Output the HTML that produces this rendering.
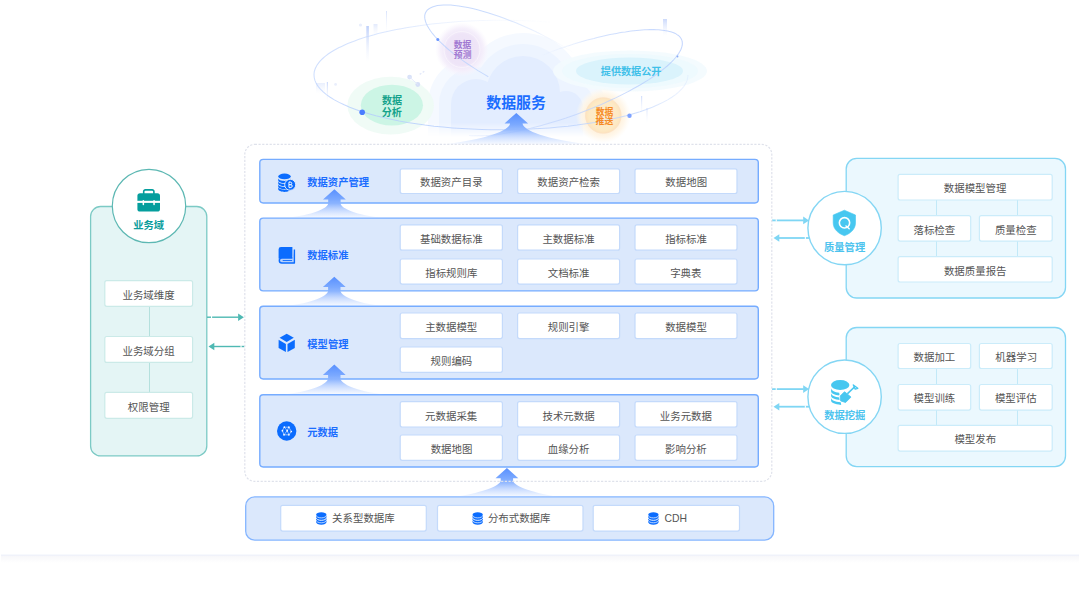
<!DOCTYPE html>
<html lang="zh"><head><meta charset="utf-8"><title>数据服务</title>
<style>
html,body{margin:0;padding:0;background:#fff}
body{width:1080px;height:612px;position:relative;overflow:hidden;font-family:"Liberation Sans",sans-serif;font-size:10.5px;color:#555}
body>div,body>svg{position:absolute;box-sizing:border-box}
svg.ov,svg.bg{left:0;top:0;pointer-events:none}
.t{color:transparent;white-space:nowrap;overflow:hidden;text-align:center;line-height:24px}
.tt{font-weight:bold;text-align:left;line-height:14px}
.dash{border-radius:10px}
.row{background:#dbe8fc;border-radius:4px}
.bar{border-radius:9px}
.wb{background:#fff;border-radius:1px}
.cdh{color:#555;line-height:13px;font-size:10.4px;white-space:nowrap}
.lp{background:#e4f5f5;border-radius:11px}
.lconn{background:#b4e0dd}
.rp{background:#ebf8fe;border-radius:11px}
.rconn{background:#c2e9f8}
svg.tx text{font-family:"Liberation Sans","Noto Sans CJK SC",sans-serif}
</style></head>
<body>
<svg class="bg" width="1080" height="612" viewBox="0 0 1080 612">
<defs>
<linearGradient id="ag" x1="0" y1="0" x2="0" y2="1">
<stop offset="0" stop-color="#5890ff"/><stop offset="0.36" stop-color="#7ba9ff"/><stop offset="0.52" stop-color="#8fb6ff" stop-opacity="0.95"/><stop offset="0.7" stop-color="#9fc0ff" stop-opacity="0.62"/><stop offset="0.9" stop-color="#b0ccff" stop-opacity="0.3"/><stop offset="1" stop-color="#b5cfff" stop-opacity="0.08"/>
</linearGradient>
<linearGradient id="cm" x1="0" y1="0" x2="0" y2="1" gradientUnits="userSpaceOnUse">
<stop offset="0" stop-color="#fff"/><stop offset="0.72" stop-color="#fff"/><stop offset="0.93" stop-color="#000"/>
</linearGradient>
<mask id="cmask" maskUnits="userSpaceOnUse" x="380" y="0" width="300" height="145"><rect x="380" y="0" width="300" height="145" fill="url(#cmG)"/></mask>
<linearGradient id="cmG" x1="0" y1="0" x2="0" y2="145" gradientUnits="userSpaceOnUse">
<stop offset="0" stop-color="#fff"/><stop offset="0.845" stop-color="#fff"/><stop offset="0.945" stop-color="#000"/>
</linearGradient>
<linearGradient id="eA" x1="314" y1="0" x2="688" y2="0" gradientUnits="userSpaceOnUse">
<stop offset="0" stop-color="#b9d0fd"/><stop offset="0.5" stop-color="#c6d9fd"/><stop offset="1" stop-color="#dfe9fe"/>
</linearGradient>
<linearGradient id="barG" x1="0" y1="0" x2="0" y2="1"><stop offset="0" stop-color="#bccefa" stop-opacity="0.95"/><stop offset="1" stop-color="#e6edfd" stop-opacity="0"/></linearGradient>
<linearGradient id="shG" x1="0" y1="0" x2="0" y2="1"><stop offset="0" stop-color="#f6f6f9"/><stop offset="1" stop-color="#fff"/></linearGradient>
</defs>
<g mask="url(#cmask)">
<g fill="#f5f9ff"><circle cx="523" cy="93" r="60"/><circle cx="476" cy="104" r="48"/><circle cx="566" cy="108" r="40"/><rect x="476" y="100" width="90" height="40"/><rect x="428" y="104" width="178" height="36"/></g>
<g fill="#edf4ff"><circle cx="523" cy="93" r="49"/><circle cx="476" cy="104" r="37"/><circle cx="566" cy="108" r="29"/><rect x="476" y="100" width="90" height="40"/><rect x="439" y="104" width="156" height="36"/></g>
<g fill="#e3edff"><circle cx="523" cy="93" r="37"/><circle cx="476" cy="104" r="25"/><circle cx="566" cy="108" r="17"/><rect x="476" y="100" width="90" height="40"/><rect x="451" y="104" width="132" height="36"/></g>
</g>
<g>
<rect x="366.3" y="26" width="2.6" height="36" fill="url(#barG)" opacity="1"/>
<rect x="373.5" y="24" width="4" height="12" fill="url(#barG)" opacity="0.45"/>
<rect x="386" y="11" width="1" height="22" fill="url(#barG)" opacity="0.6"/>
<rect x="326.8" y="82" width="1.2" height="20" fill="url(#barG)" opacity="0.8"/>
<rect x="316" y="83" width="9" height="11" fill="url(#barG)" opacity="0.35"/>
<rect x="663" y="19" width="4" height="17" fill="url(#barG)" opacity="0.8"/>
<rect x="641" y="96" width="1.2" height="18" fill="url(#barG)" opacity="0.7"/>
<rect x="646.5" y="108" width="1" height="15" fill="url(#barG)" opacity="0.7"/>
<circle cx="360.5" cy="25" r="1.6" fill="#e9eefc"/><circle cx="335.6" cy="84.4" r="1.4" fill="#e9eefc"/>
</g>
<defs>
<radialGradient id="rgP" cx="462" cy="49.5" r="27" gradientUnits="userSpaceOnUse"><stop offset="0.66" stop-color="#f1e9f9"/><stop offset="0.8" stop-color="#f5effb" stop-opacity="0.9"/><stop offset="1" stop-color="#f9f5fd" stop-opacity="0"/></radialGradient>
<radialGradient id="rgO" cx="603.3" cy="115.5" r="27.5" gradientUnits="userSpaceOnUse"><stop offset="0.64" stop-color="#fff2dd"/><stop offset="0.8" stop-color="#fff6e8" stop-opacity="0.85"/><stop offset="1" stop-color="#fff9ef" stop-opacity="0"/></radialGradient>
<radialGradient id="rgOi" cx="603.3" cy="115.5" r="18" gradientUnits="userSpaceOnUse"><stop offset="0" stop-color="#fdedcd"/><stop offset="0.8" stop-color="#fdeac6"/><stop offset="1" stop-color="#fde3bd"/></radialGradient>
<radialGradient id="rgPi" cx="462" cy="49.5" r="18" gradientUnits="userSpaceOnUse"><stop offset="0" stop-color="#ede3f7"/><stop offset="0.85" stop-color="#eee4f7"/><stop offset="1" stop-color="#f1e9f9"/></radialGradient>
</defs>
<ellipse cx="390.7" cy="105.6" rx="43.3" ry="28.9" fill="#eefbf5" opacity="0.9"/><ellipse cx="391.9" cy="105.2" rx="31.1" ry="20.4" fill="#ccf5e5"/>
<circle cx="462" cy="49.5" r="27" fill="url(#rgP)"/><circle cx="462" cy="49.5" r="18" fill="url(#rgPi)" stroke="#f8f4fc" stroke-width="0.9"/>
<ellipse cx="630" cy="71" rx="77" ry="20.5" fill="#f3fbfe" opacity="0.9"/><ellipse cx="630" cy="71" rx="68" ry="17" fill="#edf9fe" opacity="0.9"/><ellipse cx="629.5" cy="71" rx="53.5" ry="13.5" fill="#daf3fc"/>
<circle cx="603.3" cy="115.5" r="27.5" fill="url(#rgO)"/><circle cx="603.3" cy="115.5" r="17.8" fill="url(#rgOi)" stroke="#fbdfc4" stroke-width="0.7"/>
<circle cx="409.6" cy="77.1" r="2.4" fill="#d9e2f8"/><circle cx="417.8" cy="84.5" r="2.4" fill="#d6dff7"/><path d="M409.6 77.1L417.8 84.5" stroke="#e3e9fa" stroke-width="0.9"/><path d="M419.7 74.4L425.4 70.5" stroke="#e3e9fa" stroke-width="1.3" stroke-dasharray="2 1.6"/>
<defs>
<linearGradient id="gAb" x1="314" y1="0" x2="688" y2="0" gradientUnits="userSpaceOnUse"><stop offset="0" stop-color="#b9d0fd" stop-opacity="0.85"/><stop offset="0.12" stop-color="#b4cdfd"/><stop offset="0.85" stop-color="#c0d5fd"/><stop offset="1" stop-color="#c9dbfd" stop-opacity="0.35"/></linearGradient>
<linearGradient id="gAt" x1="314" y1="0" x2="560" y2="0" gradientUnits="userSpaceOnUse"><stop offset="0" stop-color="#b9d0fd" stop-opacity="0.85"/><stop offset="0.35" stop-color="#c4d7fd" stop-opacity="0.7"/><stop offset="0.6" stop-color="#cfdffd" stop-opacity="0.35"/><stop offset="0.8" stop-color="#cfdffd" stop-opacity="0.15"/><stop offset="1" stop-color="#cfdffd" stop-opacity="0"/></linearGradient>
<linearGradient id="gB" x1="420" y1="0" x2="575" y2="0" gradientUnits="userSpaceOnUse"><stop offset="0" stop-color="#b8cffd"/><stop offset="0.45" stop-color="#c0d5fd"/><stop offset="1" stop-color="#cfdffd" stop-opacity="0"/></linearGradient>
<linearGradient id="gCu" x1="540" y1="0" x2="690" y2="0" gradientUnits="userSpaceOnUse"><stop offset="0" stop-color="#cfdffd" stop-opacity="0"/><stop offset="0.4" stop-color="#c3d6fd" stop-opacity="0.9"/><stop offset="1" stop-color="#b4cbfd"/></linearGradient>
<linearGradient id="gCl" x1="440" y1="0" x2="690" y2="0" gradientUnits="userSpaceOnUse"><stop offset="0" stop-color="#cfdffd" stop-opacity="0"/><stop offset="0.3" stop-color="#c3d6fd" stop-opacity="0.8"/><stop offset="1" stop-color="#b4cbfd"/></linearGradient>
</defs>
<g fill="none" stroke-width="1.05" opacity="0.82">
<path d="M688.0 75.0L687.7 77.9L687.0 80.7L685.7 83.6L683.9 86.4L681.6 89.2L678.8 91.9L675.6 94.6L671.8 97.3L667.6 99.9L662.9 102.4L657.8 104.8L652.3 107.2L646.3 109.5L640.0 111.7L633.2 113.7L626.1 115.7L618.7 117.6L610.9 119.3L602.8 121.0L594.5 122.5L585.9 123.8L577.1 125.1L568.0 126.2L558.8 127.1L549.4 127.9L539.9 128.6L530.3 129.1L520.5 129.5L510.8 129.7L501.0 129.8L491.2 129.7L481.5 129.5L471.7 129.1L462.1 128.6L452.6 127.9L443.2 127.1L434.0 126.2L424.9 125.1L416.1 123.8L407.5 122.5L399.2 121.0L391.1 119.3L383.3 117.6L375.9 115.7L368.8 113.7L362.0 111.7L355.7 109.5L349.7 107.2L344.2 104.8L339.1 102.4L334.4 99.9L330.2 97.3L326.4 94.6L323.2 91.9L320.4 89.2L318.1 86.4L316.3 83.6L315.0 80.7L314.3 77.9L314.0 75.0" stroke="url(#gAb)"/>
<path d="M314.0 75.0L314.1 73.3L314.3 71.7L314.8 70.0L315.4 68.3L316.2 66.7L317.1 65.0L318.3 63.4L319.6 61.7L321.0 60.1L322.7 58.5L324.5 56.9L326.4 55.4L328.5 53.8L330.8 52.3L333.3 50.8L335.9 49.3L338.6 47.8L341.6 46.4L344.6 45.0L347.8 43.6L351.2 42.2L354.7 40.9L358.3 39.6L362.0 38.3L365.9 37.1L369.9 35.9L374.1 34.8L378.3 33.6L382.7 32.6L387.2 31.5L391.7 30.5L396.4 29.6L401.2 28.7L406.1 27.8L411.1 27.0L416.1 26.2L421.2 25.4L426.4 24.7L431.7 24.1L437.0 23.5L442.4 23.0L447.9 22.5L453.4 22.0L458.9 21.6L464.5 21.3L470.1 21.0L475.8 20.7L481.5 20.5L487.1 20.4L492.8 20.3L498.6 20.2L504.3 20.2L510.0 20.3L515.7 20.4L521.4 20.5L527.0 20.7L532.7 21.0L538.3 21.3L543.9 21.7L549.4 22.1" stroke="url(#gAt)"/>
<path d="M488.3 76.7L483.1 73.6L478.0 70.6L473.0 67.4L468.2 64.3L463.6 61.1L459.2 57.9L455.0 54.8L451.1 51.6L447.3 48.5L443.9 45.4L440.6 42.4L437.7 39.4L435.0 36.5L432.6 33.7L430.6 31.0L428.8 28.3L427.3 25.8L426.2 23.4L425.4 21.1L424.9 18.9L424.7 16.9L424.8 15.0L425.3 13.3L426.1 11.7L427.2 10.2L428.7 9.0L430.4 7.9L432.4 7.0L434.8 6.2L437.4 5.6L440.4 5.2L443.5 5.0L447.0 5.0L450.7 5.1L454.7 5.5L458.8 6.0L463.2 6.7L467.8 7.6L472.6 8.6L477.5 9.8L482.6 11.2L487.8 12.7L493.2 14.4L498.6 16.3L504.1 18.2L509.7 20.4L515.3 22.6L521.0 25.0L526.7 27.5L532.3 30.1L538.0 32.8L543.5 35.6L549.1 38.5L554.5 41.4L559.8 44.4L565.0 47.5L570.1 50.6L575.0 53.7L579.8 56.9L584.4 60.1" stroke="url(#gB)"/>
<path d="M533.0 58.9L536.3 57.5L539.7 56.2L543.0 54.9L546.4 53.6L549.8 52.3L553.2 51.0L556.6 49.8L560.0 48.6L563.4 47.4L566.8 46.3L570.3 45.2L573.7 44.1L577.1 43.1L580.5 42.1L583.9 41.1L587.2 40.1L590.6 39.2L593.9 38.4L597.2 37.5L600.5 36.7L603.7 36.0L606.9 35.3L610.1 34.6L613.3 34.0L616.4 33.4L619.4 32.8L622.4 32.3L625.4 31.9L628.3 31.4L631.1 31.0L633.9 30.7L636.7 30.4L639.3 30.2L642.0 30.0L644.5 29.8L647.0 29.7L649.4 29.6L651.7 29.6L654.0 29.6L656.2 29.7L658.3 29.8L660.3 30.0L662.3 30.2L664.2 30.4L665.9 30.7L667.6 31.0L669.3 31.4L670.8 31.8L672.2 32.3L673.6 32.8L674.8 33.3L676.0 33.9L677.0 34.6L678.0 35.2L678.9 35.9L679.7 36.7L680.3 37.5L680.9 38.3L681.4 39.2L681.8 40.1" stroke="url(#gCu)"/>
<path d="M681.8 40.1L682.2 41.5L682.3 43.0L682.3 44.6L682.0 46.2L681.5 47.9L680.8 49.7L679.8 51.6L678.7 53.5L677.3 55.4L675.7 57.5L673.9 59.5L671.9 61.6L669.6 63.8L667.2 66.0L664.6 68.2L661.8 70.4L658.8 72.7L655.6 75.0L652.3 77.3L648.8 79.6L645.1 81.9L641.3 84.2L637.3 86.5L633.2 88.8L629.0 91.1L624.6 93.4L620.2 95.6L615.6 97.9L610.9 100.1L606.1 102.3L601.3 104.4L596.4 106.5L591.4 108.5L586.4 110.5L581.3 112.5L576.2 114.4L571.1 116.2L566.0 118.0L560.8 119.7L555.7 121.3L550.6 122.8L545.5 124.3L540.5 125.7L535.5 127.0L530.5 128.3L525.7 129.4L520.9 130.5L516.1 131.4L511.5 132.3L507.0 133.1L502.6 133.8L498.3 134.4L494.1 134.8L490.1 135.2L486.2 135.5L482.4 135.7L478.8 135.8L475.4 135.8L472.1 135.7L469.1 135.4" stroke="url(#gCl)"/>
</g>
<circle cx="362.2" cy="112.3" r="2.8" fill="#4a7dff"/><circle cx="437.8" cy="39.5" r="1.5" fill="#6b96ff"/><circle cx="629.5" cy="115.8" r="2.2" fill="#7ea2ff"/><circle cx="677.5" cy="56.5" r="0.9" fill="#8aaaf5"/>
</svg>
<div class="dash" style="left:244.5px;top:144.2px;width:527.5px;height:337.2px;"></div>
<div class="row" style="left:259.8px;top:159.4px;width:498.5px;height:43.6px;"></div>
<div class="t tt" style="left:307px;top:174.5px;width:80px;height:14px">数据资产管理</div>
<div class="row" style="left:259.8px;top:218.1px;width:498.5px;height:72.8px;"></div>
<div class="t tt" style="left:307px;top:248.2px;width:80px;height:14px">数据标准</div>
<div class="row" style="left:259.8px;top:306.3px;width:498.5px;height:72.7px;"></div>
<div class="t tt" style="left:307px;top:336.8px;width:80px;height:14px">模型管理</div>
<div class="row" style="left:259.8px;top:394.8px;width:498.5px;height:72.2px;"></div>
<div class="t tt" style="left:307px;top:424.8px;width:80px;height:14px">元数据</div>
<div class="wb t" style="left:400.6px;top:169.2px;width:101.4px;height:23.9px;">数据资产目录</div>
<div class="wb t" style="left:518.0px;top:169.2px;width:101.2px;height:23.9px;">数据资产检索</div>
<div class="wb t" style="left:635.4px;top:169.2px;width:101.2px;height:23.9px;">数据地图</div>
<div class="wb t" style="left:400.6px;top:225.3px;width:101.4px;height:24.5px;">基础数据标准</div>
<div class="wb t" style="left:518.0px;top:225.3px;width:101.2px;height:24.5px;">主数据标准</div>
<div class="wb t" style="left:635.4px;top:225.3px;width:101.2px;height:24.5px;">指标标准</div>
<div class="wb t" style="left:400.6px;top:259.4px;width:101.4px;height:24.3px;">指标规则库</div>
<div class="wb t" style="left:518.0px;top:259.4px;width:101.2px;height:24.3px;">文档标准</div>
<div class="wb t" style="left:635.4px;top:259.4px;width:101.2px;height:24.3px;">字典表</div>
<div class="wb t" style="left:400.6px;top:313.4px;width:101.4px;height:24.8px;">主数据模型</div>
<div class="wb t" style="left:518.0px;top:313.4px;width:101.2px;height:24.8px;">规则引擎</div>
<div class="wb t" style="left:635.4px;top:313.4px;width:101.2px;height:24.8px;">数据模型</div>
<div class="wb t" style="left:400.6px;top:347.4px;width:101.4px;height:24.5px;">规则编码</div>
<div class="wb t" style="left:400.6px;top:402.1px;width:101.4px;height:24.5px;">元数据采集</div>
<div class="wb t" style="left:518.0px;top:402.1px;width:101.2px;height:24.5px;">技术元数据</div>
<div class="wb t" style="left:635.4px;top:402.1px;width:101.2px;height:24.5px;">业务元数据</div>
<div class="wb t" style="left:400.6px;top:435.4px;width:101.4px;height:24.5px;">数据地图</div>
<div class="wb t" style="left:518.0px;top:435.4px;width:101.2px;height:24.5px;">血缘分析</div>
<div class="wb t" style="left:635.4px;top:435.4px;width:101.2px;height:24.5px;">影响分析</div>
<div class="row bar" style="left:245.7px;top:496.9px;width:528.0px;height:43.3px;"></div>
<div class="wb t" style="left:281.1px;top:505.7px;width:144.8px;height:25.0px;">关系型数据库</div>
<div class="wb t" style="left:437.9px;top:505.7px;width:144.7px;height:25.0px;">分布式数据库</div>
<div class="wb" style="left:593.6px;top:505.7px;width:145.5px;height:25.0px;"></div>
<div class="lp" style="left:90.6px;top:206.5px;width:116.2px;height:249.4px;"></div>
<div class="lconn" style="left:149.1px;top:306px;width:1px;height:87px"></div>
<div class="wb t" style="left:105.2px;top:281.1px;width:87.0px;height:24.8px;">业务域维度</div>
<div class="wb t" style="left:105.2px;top:336.9px;width:87.0px;height:25.1px;">业务域分组</div>
<div class="wb t" style="left:105.2px;top:392.8px;width:87.0px;height:25.1px;">权限管理</div>
<div class="t tt" style="left:125px;top:217px;width:48px;height:14px;text-align:center">业务域</div>
<div class="rp" style="left:846.2px;top:158.4px;width:219.3px;height:139.6px;"></div>
<div class="rconn" style="left:936.0px;top:200.0px;width:1px;height:57.0px"></div>
<div class="rconn" style="left:1016.9px;top:200.0px;width:1px;height:57.0px"></div>
<div class="wb t" style="left:898.5px;top:174.8px;width:153.3px;height:24.8px;">数据模型管理</div>
<div class="wb t" style="left:898.5px;top:216.1px;width:71.8px;height:24.6px;">落标检查</div>
<div class="wb t" style="left:979.8px;top:216.1px;width:72.0px;height:24.6px;">质量检查</div>
<div class="wb t" style="left:898.5px;top:257.1px;width:153.3px;height:24.5px;">数据质量报告</div>
<div class="t tt" style="left:815px;top:239.1px;width:60px;height:14px;text-align:center">质量管理</div>
<div class="rp" style="left:846.2px;top:327.5px;width:219.3px;height:139.1px;"></div>
<div class="rconn" style="left:936.0px;top:368.0px;width:1px;height:58.0px"></div>
<div class="rconn" style="left:1016.9px;top:368.0px;width:1px;height:58.0px"></div>
<div class="wb t" style="left:898.5px;top:343.9px;width:71.8px;height:24.2px;">数据加工</div>
<div class="wb t" style="left:979.8px;top:343.9px;width:72.0px;height:24.2px;">机器学习</div>
<div class="wb t" style="left:898.5px;top:384.9px;width:71.8px;height:24.8px;">模型训练</div>
<div class="wb t" style="left:979.8px;top:384.9px;width:72.0px;height:24.8px;">模型评估</div>
<div class="wb t" style="left:898.5px;top:425.7px;width:153.3px;height:25.0px;">模型发布</div>
<div class="t tt" style="left:815px;top:407.7px;width:60px;height:14px;text-align:center">数据挖掘</div>
<div class="t" style="left:485px;top:92px;width:62px;height:19px;font-size:14.8px;line-height:19px;font-weight:bold">数据服务</div>
<div class="t" style="left:380px;top:94px;width:24px;height:24px;line-height:12px;white-space:normal;font-weight:bold">数据<br>分析</div>
<div class="t" style="left:452px;top:40px;width:20px;height:20px;font-size:8.7px;line-height:10px;white-space:normal">数据<br>预测</div>
<div class="t" style="left:600px;top:64px;width:62px;height:14px;line-height:14px;font-weight:bold">提供数据公开</div>
<div class="t" style="left:594px;top:106px;width:20px;height:20px;font-size:8.7px;line-height:10px;white-space:normal;font-weight:bold">数据<br>推送</div>
<svg class="ov" width="1080" height="612" viewBox="0 0 1080 612">
<rect x="259.80" y="159.40" width="498.50" height="43.60" rx="3.4" fill="none" stroke="#76acff" stroke-width="1.4"/>
<rect x="259.80" y="218.10" width="498.50" height="72.80" rx="3.4" fill="none" stroke="#76acff" stroke-width="1.4"/>
<rect x="259.80" y="306.30" width="498.50" height="72.70" rx="3.4" fill="none" stroke="#76acff" stroke-width="1.4"/>
<rect x="259.80" y="394.80" width="498.50" height="72.20" rx="3.4" fill="none" stroke="#76acff" stroke-width="1.4"/>
<rect x="400.20" y="168.80" width="102.20" height="24.70" rx="2" fill="#fff" stroke="#c4dafb" stroke-width="1.2"/>
<rect x="517.60" y="168.80" width="102.00" height="24.70" rx="2" fill="#fff" stroke="#c4dafb" stroke-width="1.2"/>
<rect x="635.00" y="168.80" width="102.00" height="24.70" rx="2" fill="#fff" stroke="#c4dafb" stroke-width="1.2"/>
<rect x="400.20" y="224.90" width="102.20" height="25.30" rx="2" fill="#fff" stroke="#c4dafb" stroke-width="1.2"/>
<rect x="517.60" y="224.90" width="102.00" height="25.30" rx="2" fill="#fff" stroke="#c4dafb" stroke-width="1.2"/>
<rect x="635.00" y="224.90" width="102.00" height="25.30" rx="2" fill="#fff" stroke="#c4dafb" stroke-width="1.2"/>
<rect x="400.20" y="259.00" width="102.20" height="25.10" rx="2" fill="#fff" stroke="#c4dafb" stroke-width="1.2"/>
<rect x="517.60" y="259.00" width="102.00" height="25.10" rx="2" fill="#fff" stroke="#c4dafb" stroke-width="1.2"/>
<rect x="635.00" y="259.00" width="102.00" height="25.10" rx="2" fill="#fff" stroke="#c4dafb" stroke-width="1.2"/>
<rect x="400.20" y="313.00" width="102.20" height="25.60" rx="2" fill="#fff" stroke="#c4dafb" stroke-width="1.2"/>
<rect x="517.60" y="313.00" width="102.00" height="25.60" rx="2" fill="#fff" stroke="#c4dafb" stroke-width="1.2"/>
<rect x="635.00" y="313.00" width="102.00" height="25.60" rx="2" fill="#fff" stroke="#c4dafb" stroke-width="1.2"/>
<rect x="400.20" y="347.00" width="102.20" height="25.30" rx="2" fill="#fff" stroke="#c4dafb" stroke-width="1.2"/>
<rect x="400.20" y="401.70" width="102.20" height="25.30" rx="2" fill="#fff" stroke="#c4dafb" stroke-width="1.2"/>
<rect x="517.60" y="401.70" width="102.00" height="25.30" rx="2" fill="#fff" stroke="#c4dafb" stroke-width="1.2"/>
<rect x="635.00" y="401.70" width="102.00" height="25.30" rx="2" fill="#fff" stroke="#c4dafb" stroke-width="1.2"/>
<rect x="400.20" y="435.00" width="102.20" height="25.30" rx="2" fill="#fff" stroke="#c4dafb" stroke-width="1.2"/>
<rect x="517.60" y="435.00" width="102.00" height="25.30" rx="2" fill="#fff" stroke="#c4dafb" stroke-width="1.2"/>
<rect x="635.00" y="435.00" width="102.00" height="25.30" rx="2" fill="#fff" stroke="#c4dafb" stroke-width="1.2"/>
<rect x="245.70" y="496.90" width="528.00" height="43.30" rx="9" fill="none" stroke="#84b5ff" stroke-width="1.3"/>
<rect x="280.70" y="505.30" width="145.60" height="25.80" rx="2" fill="#fff" stroke="#c4dafb" stroke-width="1.2"/>
<rect x="437.50" y="505.30" width="145.50" height="25.80" rx="2" fill="#fff" stroke="#c4dafb" stroke-width="1.2"/>
<rect x="593.20" y="505.30" width="146.30" height="25.80" rx="2" fill="#fff" stroke="#c4dafb" stroke-width="1.2"/>
<rect x="90.60" y="206.50" width="116.20" height="249.40" rx="10" fill="none" stroke="#7ccac5" stroke-width="1.3"/>
<rect x="104.80" y="280.70" width="87.80" height="25.60" rx="2" fill="#fff" stroke="#cbeae8" stroke-width="1.2"/>
<rect x="104.80" y="336.50" width="87.80" height="25.90" rx="2" fill="#fff" stroke="#cbeae8" stroke-width="1.2"/>
<rect x="104.80" y="392.40" width="87.80" height="25.90" rx="2" fill="#fff" stroke="#cbeae8" stroke-width="1.2"/>
<circle cx="149" cy="206" r="36.7" fill="#fff" stroke="#5db8b3" stroke-width="1.2"/>
<rect x="846.20" y="158.40" width="219.30" height="139.60" rx="10.5" fill="none" stroke="#84d6f4" stroke-width="1.3"/>
<rect x="898.10" y="174.40" width="154.10" height="25.60" rx="2" fill="#fff" stroke="#cbecfa" stroke-width="1.2"/>
<rect x="898.10" y="215.70" width="72.60" height="25.40" rx="2" fill="#fff" stroke="#cbecfa" stroke-width="1.2"/>
<rect x="979.40" y="215.70" width="72.80" height="25.40" rx="2" fill="#fff" stroke="#cbecfa" stroke-width="1.2"/>
<rect x="898.10" y="256.70" width="154.10" height="25.30" rx="2" fill="#fff" stroke="#cbecfa" stroke-width="1.2"/>
<circle cx="844.6" cy="228.1" r="36.7" fill="#fff" stroke="#84d6f4" stroke-width="1.4"/>
<rect x="846.20" y="327.50" width="219.30" height="139.10" rx="10.5" fill="none" stroke="#84d6f4" stroke-width="1.3"/>
<rect x="898.10" y="343.50" width="72.60" height="25.00" rx="2" fill="#fff" stroke="#cbecfa" stroke-width="1.2"/>
<rect x="979.40" y="343.50" width="72.80" height="25.00" rx="2" fill="#fff" stroke="#cbecfa" stroke-width="1.2"/>
<rect x="898.10" y="384.50" width="72.60" height="25.60" rx="2" fill="#fff" stroke="#cbecfa" stroke-width="1.2"/>
<rect x="979.40" y="384.50" width="72.80" height="25.60" rx="2" fill="#fff" stroke="#cbecfa" stroke-width="1.2"/>
<rect x="898.10" y="425.30" width="154.10" height="25.80" rx="2" fill="#fff" stroke="#cbecfa" stroke-width="1.2"/>
<circle cx="844.6" cy="396.7" r="36.7" fill="#fff" stroke="#84d6f4" stroke-width="1.4"/>
<path fill="url(#ag)" d="M334.4 189.3L345.79999999999995 199.60000000000002L340.59999999999997 199.60000000000002L340.59999999999997 204.00000000000003C342.4 208.50000000000003 354.4 214.8 384.4 218.3L284.4 218.3C314.4 214.8 326.4 208.50000000000003 328.2 204.00000000000003L328.2 199.60000000000002L323.0 199.60000000000002Z"/>
<path fill="url(#ag)" d="M334.3 276.7L345.7 287.0L340.5 287.0L340.5 291.4C342.3 295.9 354.3 302.7 384.3 306.2L284.3 306.2C314.3 302.7 326.3 295.9 328.1 291.4L328.1 287.0L322.90000000000003 287.0Z"/>
<path fill="url(#ag)" d="M334.3 364.6L345.7 374.90000000000003L340.5 374.90000000000003L340.5 379.3C342.3 383.8 354.3 391.1 384.3 394.6L284.3 394.6C314.3 391.1 326.3 383.8 328.1 379.3L328.1 374.90000000000003L322.90000000000003 374.90000000000003Z"/>
<path fill="url(#ag)" d="M516.3 113.1L528.0999999999999 123.39999999999999L522.5999999999999 123.39999999999999L522.5999999999999 123.89999999999999C524.3 130.39999999999998 544.3 139.1 591.3 144.6L441.29999999999995 144.6C488.29999999999995 139.1 508.29999999999995 130.39999999999998 509.99999999999994 123.89999999999999L509.99999999999994 123.39999999999999L504.49999999999994 123.39999999999999Z"/>
<path fill="url(#ag)" d="M506.9 468.0L518.3 478.3L513.1 478.3L513.1 481.0C514.9 486.0 526.9 491.5 558.9 497L454.9 497C486.9 491.5 498.9 486.0 500.7 481.0L500.7 478.3L495.5 478.3Z"/>
<path d="M207 317.2L238.6 317.2" stroke="#4fb9b3" stroke-width="1.4"/><path d="M243.9 317.2L238.1 313.5L238.1 320.9Z" fill="#4fb9b3"/><rect x="211" y="316.0" width="1.1" height="2.4" fill="#fff"/>
<path d="M213.8 346.5L244.5 346.5" stroke="#4fb9b3" stroke-width="1.4"/><path d="M208.5 346.5L214.3 342.8L214.3 350.2Z" fill="#4fb9b3"/><rect x="240.5" y="345.3" width="1.1" height="2.4" fill="#fff"/>
<path d="M772 220.4L803.7 220.4" stroke="#7fd6f4" stroke-width="1.8"/><path d="M809 220.4L803.2 216.6L803.2 224.20000000000002Z" fill="#7fd6f4"/><rect x="775.7" y="219.20000000000002" width="1.1" height="2.4" fill="#fff"/>
<path d="M778.8 238L809 238" stroke="#7fd6f4" stroke-width="1.8"/><path d="M773.5 238L779.3 234.2L779.3 241.8Z" fill="#7fd6f4"/><rect x="804.8" y="236.8" width="1.1" height="2.4" fill="#fff"/>
<path d="M772 389.1L803.7 389.1" stroke="#7fd6f4" stroke-width="1.8"/><path d="M809 389.1L803.2 385.3L803.2 392.90000000000003Z" fill="#7fd6f4"/><rect x="775.7" y="387.90000000000003" width="1.1" height="2.4" fill="#fff"/>
<path d="M778.8 406.7L809 406.7" stroke="#7fd6f4" stroke-width="1.8"/><path d="M773.5 406.7L779.3 402.9L779.3 410.5Z" fill="#7fd6f4"/><rect x="804.8" y="405.5" width="1.1" height="2.4" fill="#fff"/>
<rect x="1" y="555" width="1078" height="8" fill="url(#shG)"/><rect x="1" y="554.6" width="1078" height="1" fill="#eceffa"/>
<g fill="#0b6cfe"><ellipse cx="284.5" cy="176.4" rx="6.3" ry="2.8"/><path d="M278.2 178.0C278.2 180.0 281.5 180.9 284.5 180.9C287.5 180.9 290.8 180.0 290.8 178.0L290.8 180.29999999999998C290.8 182.2 287.5 183.1 284.5 183.1C281.5 183.1 278.2 182.2 278.2 180.29999999999998Z"/><path d="M278.2 181.0C278.2 183.0 281.5 183.9 284.5 183.9C287.5 183.9 290.8 183.0 290.8 181.0L290.8 183.29999999999998C290.8 185.2 287.5 186.1 284.5 186.1C281.5 186.1 278.2 185.2 278.2 183.29999999999998Z"/><path d="M278.2 184.0C278.2 186.0 281.5 186.9 284.5 186.9C287.5 186.9 290.8 186.0 290.8 184.0L290.8 186.29999999999998C290.8 188.2 287.5 189.1 284.5 189.1C281.5 189.1 278.2 188.2 278.2 186.29999999999998Z"/><path d="M278.2 186.8C278.2 188.8 281.5 189.70000000000002 284.5 189.70000000000002C287.5 189.70000000000002 290.8 188.8 290.8 186.8L290.8 189.1C290.8 191.0 287.5 191.9 284.5 191.9C281.5 191.9 278.2 191.0 278.2 189.1Z"/><circle cx="290.2" cy="184.8" r="5.5" fill="#0b6cfe" stroke="#dbe8fc" stroke-width="1"/></g><path d="M288.9 182.2h1.6a1.25 1.25 0 0 1 0 2.5h-1.6zM288.9 184.7h2a1.35 1.35 0 0 1 0 2.7h-2z" fill="none" stroke="#fff" stroke-width="0.9"/><path d="M289.8 181.4v1M289.8 187.3v1" stroke="#fff" stroke-width="0.8"/>
<g><path d="M281 246.9h11.4v11.1h-12.3a1.8 1.8 0 0 0 -1.5 .8v-9.5a2.4 2.4 0 0 1 2.4 -2.4z" fill="#0b6cfe"/><path d="M294.4 249.6v13.4h-12.6a2.5 2.5 0 0 1 0 -5h10.6" fill="#b5d0fc" stroke="#0b6cfe" stroke-width="1.4" stroke-linejoin="round"/><path d="M282.7 260.5h9.4" stroke="#0b6cfe" stroke-width="0.9"/></g>
<g fill="#0b6cfe"><path d="M286.7 333.7L293.8 337.7L286.7 341.9L279.6 337.7Z"/><path d="M278.6 339.8L285.9 343.9L285.9 352L278.6 347.9Z"/><path d="M294.8 339.8L287.5 343.9L287.5 352L294.8 347.9Z"/></g>
<g><circle cx="286.7" cy="431" r="9.7" fill="#0b6cfe"/><g stroke="#fff" stroke-width="0.6" opacity="0.9"><path d="M284.3 427.2L288.9 427.2"/><path d="M284.3 427.2L282.4 430.7"/><path d="M282.4 430.7L284.0 434.8"/><path d="M284.0 434.8L288.9 434.8"/><path d="M288.9 434.8L291.3 431.5"/><path d="M291.3 431.5L288.9 427.2"/><path d="M288.9 427.2L287.2 430.7"/><path d="M287.2 430.7L284.0 434.8"/><path d="M287.2 430.7L288.9 434.8"/><path d="M284.3 427.2L287.2 430.7"/></g><g fill="#fff"><circle cx="284.3" cy="427.2" r="0.85"/><circle cx="288.9" cy="427.2" r="0.85"/><circle cx="282.4" cy="430.7" r="0.85"/><circle cx="287.2" cy="430.7" r="0.85"/><circle cx="291.3" cy="431.5" r="0.85"/><circle cx="284.0" cy="434.8" r="0.85"/><circle cx="288.9" cy="434.8" r="0.85"/></g></g>
<g><path fill="#0b6cfe" d="M316.1 514.9000000000001a5.2 2.7 0 0 1 10.4 0v7.2a5.2 2.7 0 0 1 -10.4 0z"/><path d="M316.1 515.2a5.2 2.7 0 0 0 10.4 0" fill="none" stroke="#fff" stroke-width="0.7"/><path d="M316.1 517.6500000000001a5.2 2.7 0 0 0 10.4 0" fill="none" stroke="#fff" stroke-width="0.9"/><path d="M316.1 520.1000000000001a5.2 2.7 0 0 0 10.4 0" fill="none" stroke="#fff" stroke-width="0.7"/></g>
<g><path fill="#0b6cfe" d="M472.5 514.9000000000001a5.2 2.7 0 0 1 10.4 0v7.2a5.2 2.7 0 0 1 -10.4 0z"/><path d="M472.5 515.2a5.2 2.7 0 0 0 10.4 0" fill="none" stroke="#fff" stroke-width="0.7"/><path d="M472.5 517.6500000000001a5.2 2.7 0 0 0 10.4 0" fill="none" stroke="#fff" stroke-width="0.9"/><path d="M472.5 520.1000000000001a5.2 2.7 0 0 0 10.4 0" fill="none" stroke="#fff" stroke-width="0.7"/></g>
<g><path fill="#0b6cfe" d="M648.1999999999999 514.9000000000001a5.2 2.7 0 0 1 10.4 0v7.2a5.2 2.7 0 0 1 -10.4 0z"/><path d="M648.1999999999999 515.2a5.2 2.7 0 0 0 10.4 0" fill="none" stroke="#fff" stroke-width="0.7"/><path d="M648.1999999999999 517.6500000000001a5.2 2.7 0 0 0 10.4 0" fill="none" stroke="#fff" stroke-width="0.9"/><path d="M648.1999999999999 520.1000000000001a5.2 2.7 0 0 0 10.4 0" fill="none" stroke="#fff" stroke-width="0.7"/></g>
<g><rect x="137.4" y="193.2" width="22.6" height="18.4" rx="2.6" fill="#059e9d"/><path d="M143.7 194v-2.4a1.7 1.7 0 0 1 1.7 -1.7h6.8a1.7 1.7 0 0 1 1.7 1.7v2.4" fill="none" stroke="#059e9d" stroke-width="1.6"/><rect x="137" y="200.8" width="23.4" height="2.1" fill="#fff"/><rect x="142.6" y="200" width="1.5" height="5.2" rx="0.7" fill="#fff"/><rect x="153.3" y="200" width="1.5" height="5.2" rx="0.7" fill="#fff"/></g>
<g><path d="M844.4 210.2L855.5 215V222.8C855.5 229.2 850.5 233.6 844.4 235.7C838.3 233.6 833.2 229.2 833.2 222.8V215Z" fill="#47c7f0" stroke="#47c7f0" stroke-width="0.6" stroke-linejoin="round"/><circle cx="844.5" cy="222.8" r="5.15" fill="none" stroke="#fff" stroke-width="1.6"/><path d="M846 226L849.2 228.8" stroke="#fff" stroke-width="1.5" stroke-linecap="round"/></g>
<g fill="#47c7f0"><ellipse cx="840.2" cy="385" rx="9.2" ry="5.1"/><path d="M831.1 388.5C831.6 390.8 834.5 392.2 839.2 392.8L839.6 395.5C834.5 395.0 831.4 393.4 831.1 391.4Z"/><path d="M831.1 393.2C831.6 395.5 834.5 396.9 840.0 397.5L840.4 400.2C834.5 399.7 831.4 398.09999999999997 831.1 396.09999999999997Z"/><path d="M831.1 397.9C831.6 400.2 834.5 401.59999999999997 840.8000000000001 402.2L841.2 404.9C834.5 404.4 831.4 402.79999999999995 831.1 400.79999999999995Z"/><path d="M844.5 391.7L851 397.1L845.6 402.5L840.7 400.9L840.2 396Z" fill="#47c7f0" stroke="#fff" stroke-width="2.2" stroke-linejoin="round"/><path d="M844.5 391.7L851 397.1L845.6 402.5L840.7 400.9L840.2 396Z" stroke="#47c7f0" stroke-width="0.8" stroke-linejoin="round"/><path d="M847.3 393.9L854.2 387.2" stroke="#47c7f0" stroke-width="1.6"/><path d="M853.3 384.9L857.8 388.3L855.2 389.2Z" fill="#fff" stroke="#47c7f0" stroke-width="1.3" stroke-linejoin="round"/></g>
<rect x="244.8" y="144.4" width="527" height="337" rx="10" fill="none" stroke="#dfe2eb" stroke-width="1.2" stroke-dasharray="2.2 1.5"/>
</svg>
<svg class="ov tx" width="1080" height="612" viewBox="0 0 1080 612">
<g font-size="10.3" font-weight="bold" fill="#1b6dff">
<text x="307.27" y="185.69">数据资产管理</text>
<text x="307.27" y="259.39">数据标准</text>
<text x="307.31" y="347.94">模型管理</text>
<text x="307.18" y="435.94">元数据</text>
</g>
<g font-size="10.45" fill="#555">
<text x="419.99" y="186.30">数据资产目录</text>
<text x="537.37" y="186.30">数据资产检索</text>
<text x="665.33" y="186.30">数据地图</text>
<text x="420.00" y="242.70">基础数据标准</text>
<text x="542.42" y="242.70">主数据标准</text>
<text x="665.18" y="242.70">指标标准</text>
<text x="425.25" y="276.70">指标规则库</text>
<text x="547.75" y="276.70">文档标准</text>
<text x="670.14" y="276.70">字典表</text>
<text x="425.13" y="330.95">主数据模型</text>
<text x="547.72" y="330.95">规则引擎</text>
<text x="665.15" y="330.95">数据模型</text>
<text x="430.53" y="364.80">规则编码</text>
<text x="425.09" y="419.50">元数据采集</text>
<text x="542.50" y="419.50">技术元数据</text>
<text x="659.78" y="419.50">业务元数据</text>
<text x="430.63" y="452.80">数据地图</text>
<text x="547.72" y="452.80">血缘分析</text>
<text x="665.04" y="452.80">影响分析</text>
<text x="332.10" y="522.45">关系型数据库</text>
<text x="487.89" y="522.45">分布式数据库</text>
<text x="122.46" y="298.65">业务域维度</text>
<text x="122.48" y="354.60">业务域分组</text>
<text x="127.87" y="410.50">权限管理</text>
<text x="943.77" y="192.35">数据模型管理</text>
<text x="913.47" y="233.55">落标检查</text>
<text x="994.90" y="233.55">质量检查</text>
<text x="943.90" y="274.50">数据质量报告</text>
<text x="913.55" y="361.15">数据加工</text>
<text x="995.34" y="361.15">机器学习</text>
<text x="913.53" y="402.45">模型训练</text>
<text x="994.94" y="402.45">模型评估</text>
<text x="954.39" y="443.35">模型发布</text>
</g>
<text x="133.14" y="228.59" font-size="10.3" font-weight="bold" fill="#0b9d9c">业务域</text>
<text x="824.01" y="250.69" font-size="10.3" font-weight="bold" fill="#4cc3ee">质量管理</text>
<text x="824.21" y="419.29" font-size="10.3" font-weight="bold" fill="#4cc3ee">数据挖掘</text>
<text x="486.34" y="107.51" font-size="14.9" font-weight="bold" fill="#1b6dff">数据服务</text>
<g font-size="10.1" font-weight="bold" fill="#14a28b">
<text x="381.89" y="103.94">数据</text>
<text x="381.79" y="115.64">分析</text>
</g>
<g font-size="8.8" font-weight="bold" fill="#a279d2">
<text x="453.77" y="48.42">数据</text>
<text x="453.85" y="58.42">预测</text>
</g>
<text x="600.80" y="75.41" font-size="10.1" font-weight="bold" fill="#3fc0e9">提供数据公开</text>
<g font-size="8.8" font-weight="bold" fill="#f68a24">
<text x="595.67" y="114.62">数据</text>
<text x="595.58" y="124.32">推送</text>
</g>
</svg>
<div class="cdh" style="left:664.5px;top:512px;width:30px;height:13px">CDH</div>
</body></html>
